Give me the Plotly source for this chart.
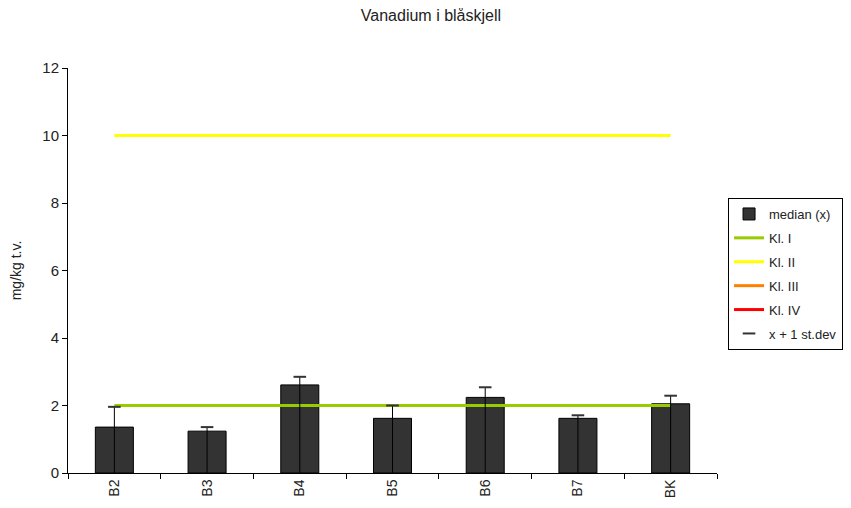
import plotly.graph_objects as go

# stations and values (mg/kg t.v.)
stations = ['B2', 'B3', 'B4', 'B5', 'B6', 'B7', 'BK']
median_x = [1.36, 1.24, 2.61, 1.62, 2.24, 1.62, 2.05]
st_dev = [0.60, 0.12, 0.24, 0.38, 0.30, 0.09, 0.24]

# class limits
kl_1 = 2
kl_2 = 10
kl_3 = 20
kl_4 = 50

font = 'Liberation Sans, Arial, sans-serif'

fig = go.Figure()

fig.add_trace(go.Bar(
    x=stations, y=median_x, name='median (x)', legendgroup='a',
    marker=dict(color='#333333', line=dict(color='#000000', width=1)),
))

limits = [('Kl. I', kl_1, '#99cc00'), ('Kl. II', kl_2, '#ffff00'),
          ('Kl. III', kl_3, '#ff8000'), ('Kl. IV', kl_4, '#ff0000')]
for name, val, col in limits:
    fig.add_trace(go.Scatter(
        x=stations, y=[val] * len(stations), name=name, mode='lines',
        legendgroup=name, line=dict(color=col, width=3),
    ))

# x + 1 st.dev: dash marker with a line down to zero
top = [m + s for m, s in zip(median_x, st_dev)]
fig.add_trace(go.Scatter(
    x=stations, y=top, name='x + 1 st.dev', mode='markers', legendgroup='sd',
    marker=dict(symbol='line-ew', size=9, color='#333333',
                line=dict(color='#333333', width=2)),
    error_y=dict(type='data', symmetric=False, array=[0] * len(top),
                 arrayminus=top, width=0, thickness=1, color='#000000'),
))

# page body adds an 8px offset, margins account for it
fig.update_layout(
    width=851, height=508,
    paper_bgcolor='white', plot_bgcolor='white',
    font=dict(family=font, size=13, color='#222222'),
    title=dict(text='Vanadium i blåskjell', x=0.497, xanchor='center',
               y=0.996, yanchor='top', font=dict(size=16)),
    margin=dict(l=60, r=142, t=60, b=43),
    bargap=0.59,
    showlegend=True,
    legend=dict(x=1.017, y=0.679, xanchor='left', yanchor='top',
                bordercolor='#000000', borderwidth=1, bgcolor='white',
                font=dict(size=13), tracegroupgap=4, traceorder='grouped',
                itemwidth=30),
)

fig.update_xaxes(
    showline=True, linecolor='#000000', linewidth=1,
    ticks='outside', ticklen=5, tickcolor='#000000', tickson='boundaries',
    tickangle=-90, tickfont=dict(size=14), showgrid=False, automargin=False,
)
fig.update_yaxes(
    range=[0, 12], dtick=2, showline=True, linecolor='#000000', linewidth=1,
    ticks='outside', ticklen=5, tickcolor='#000000', showgrid=False,
    zeroline=False, tickfont=dict(size=15),
    title=dict(text='mg/kg t.v.', font=dict(size=14), standoff=18),
    automargin=False,
)

fig.write_html('out.html')
